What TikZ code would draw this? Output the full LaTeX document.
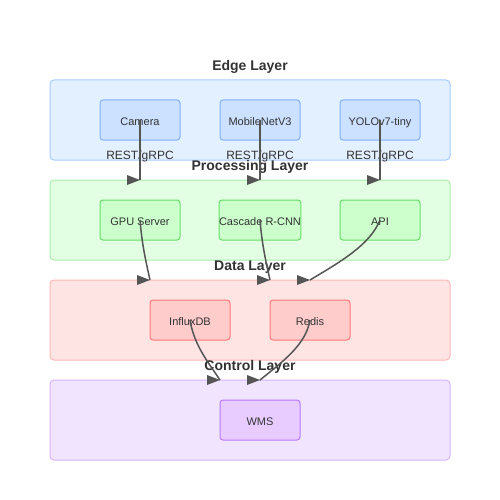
\documentclass[tikz,border=0pt]{standalone}
\usepackage{fontspec}
\setmainfont{Liberation Sans}
\usepackage{xcolor}
\usetikzlibrary{positioning}

\definecolor{textgray}{HTML}{333333}
\definecolor{linegray}{HTML}{555555}
\definecolor{edgefill}{HTML}{E3F0FF}
\definecolor{edgeline}{HTML}{A8CCFF}
\definecolor{edgebox}{HTML}{CCE0FF}
\definecolor{edgeboxline}{HTML}{80B0FF}
\definecolor{procfill}{HTML}{E3FFE3}
\definecolor{procline}{HTML}{AAEEAA}
\definecolor{procbox}{HTML}{CCFFCC}
\definecolor{procboxline}{HTML}{66DD66}
\definecolor{datafill}{HTML}{FFE4E4}
\definecolor{dataline}{HTML}{FFB8B8}
\definecolor{databox}{HTML}{FFCCCC}
\definecolor{databoxline}{HTML}{FF7777}
\definecolor{ctrlfill}{HTML}{F0E4FF}
\definecolor{ctrlline}{HTML}{D8B4FF}
\definecolor{ctrlbox}{HTML}{E8CCFF}
\definecolor{ctrlboxline}{HTML}{BB77FF}

\tikzset{
	marker/.pic={\fill[linegray] (0,0) -- (-13,-5) -- (-13,5) -- cycle;}
}

\begin{document}
\begin{tikzpicture}[x=1pt,y=-1pt,
	layer/.style={draw, line width=1pt, rounded corners=4pt, minimum width=400pt, minimum height=80pt, inner sep=0pt, outer sep=0pt},
	box/.style={draw, line width=1pt, rounded corners=3pt, minimum width=80pt, minimum height=40pt, inner sep=0pt, outer sep=0pt, text height=10pt, text depth=0pt, text=textgray, font=\fontsize{11}{13}\selectfont},
	title/.style={text=textgray, font=\bfseries\fontsize{14}{16}\selectfont},
	lbl/.style={text=textgray, font=\fontsize{12}{14}\selectfont},
	link/.style={draw=linegray, line width=1.5pt}]
	\useasboundingbox[fill=white] (0,0) rectangle (500,500);

	% layers
	\node[layer, fill=edgefill, draw=edgeline] (edge) at (250,120) {};
	\node[layer, fill=procfill, draw=procline] (proc) at (250,220) {};
	\node[layer, fill=datafill, draw=dataline] (data) at (250,320) {};
	\node[layer, fill=ctrlfill, draw=ctrlline] (ctrl) at (250,420) {};

	\node[title] (edgetitle) at (250,67) {Edge Layer};
	\node[title] (proctitle) at (250,167) {Processing Layer};
	\node[title] (datatitle) at (250,267) {Data Layer};
	\node[title] (ctrltitle) at (250,367) {Control Layer};

	% boxes
	\node[box, fill=edgebox, draw=edgeboxline] (camera) at (140,120) {Camera};
	\node[box, fill=edgebox, draw=edgeboxline, right=40pt of camera] (mobilenet) {MobileNetV3};
	\node[box, fill=edgebox, draw=edgeboxline, right=40pt of mobilenet] (yolo) {YOLOv7-tiny};

	\node[box, fill=procbox, draw=procboxline, below=60pt of camera] (gpu) {GPU Server};
	\node[box, fill=procbox, draw=procboxline, below=60pt of mobilenet] (cascade) {Cascade R-CNN};
	\node[box, fill=procbox, draw=procboxline, below=60pt of yolo] (api) {API};

	\node[box, fill=databox, draw=databoxline] (influx) at (190,320) {InfluxDB};
	\node[box, fill=databox, draw=databoxline, right=40pt of influx] (redis) {Redis};

	\node[box, fill=ctrlbox, draw=ctrlboxline] (wms) at (260,420) {WMS};

	% labels
	\node[lbl] (rest1) at (140,156) {REST/gRPC};
	\node[lbl] (rest2) at (260,156) {REST/gRPC};
	\node[lbl] (rest3) at (380,156) {REST/gRPC};

	% arrows
	\coordinate (camin) at (camera |- proc.north);
	\coordinate (mobin) at (mobilenet |- proc.north);
	\coordinate (yoloin) at (yolo |- proc.north);
	\coordinate (gpuin) at (150,280);
	\coordinate (casin) at (270,280);
	\coordinate (apiin) at (310,280);
	\coordinate (influxin) at (220,380);
	\coordinate (redisin) at (260,380);

	\draw[link] (camera.center) -- (camin);
	\draw[link] (mobilenet.center) -- (mobin);
	\draw[link] (yolo.center) -- (yoloin);
	\draw[link] (gpu.center) .. controls (142,245) and (146,262) .. (gpuin);
	\draw[link] (cascade.center) .. controls (262,245) and (266,262) .. (casin);
	\draw[link] (api.center) .. controls (370,245) and (340,262) .. (apiin);
	\draw[link] (influx.center) .. controls (194,345) and (208,362) .. (influxin);
	\draw[link] (redis.center) .. controls (306,345) and (282,362) .. (redisin);

	\foreach \p in {camin,mobin,yoloin,gpuin,casin,apiin,influxin,redisin}
		\pic at (\p) {marker};
\end{tikzpicture}
\end{document}
